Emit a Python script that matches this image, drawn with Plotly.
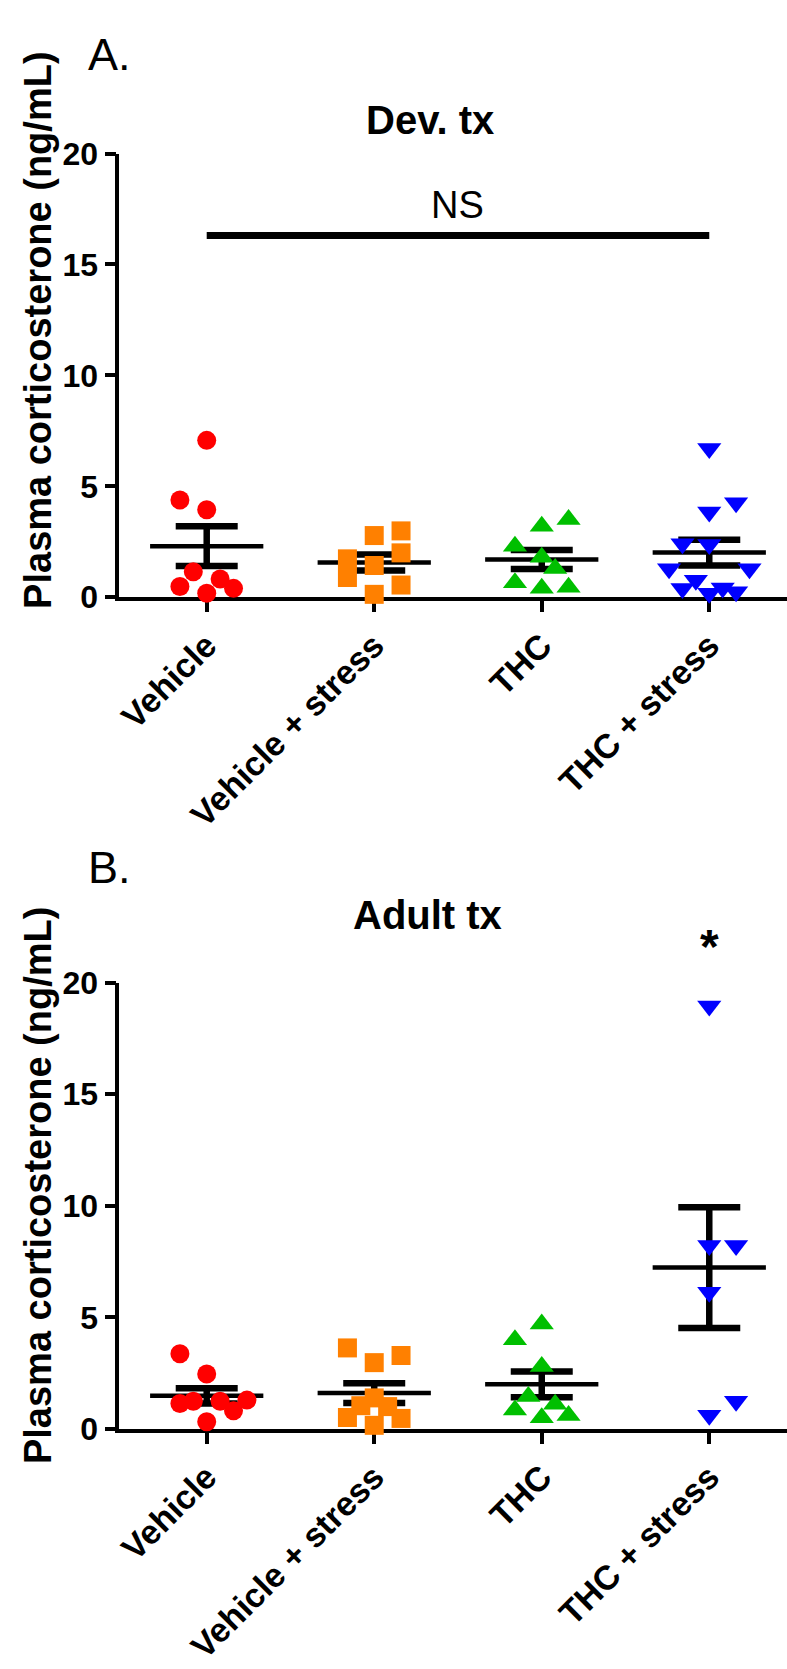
import numpy as np
import plotly.graph_objects as go

# ---------------------------------------------------------------- data
categories = ["Vehicle", "Vehicle + stress", "THC", "THC + stress"]
y_ticks = [0, 5, 10, 15, 20]

# Plasma corticosterone (ng/mL), developmental treatment
dev_vehicle = [7.07, 4.38, 3.94, 1.15, 0.48, 0.18, 0.82, 0.40]
dev_vehicle_stress = [2.78, 2.99, 2.00, 1.43, 1.73, 0.89, 0.55, 0.13]
dev_thc = [3.20, 3.50, 2.30, 1.80, 1.30, 0.65, 0.40, 0.45]
dev_thc_stress = [6.70, 3.84, 4.26, 2.41, 2.38, 1.28, 1.28, 0.76, 0.39, 0.18, 0.42, 0.25]

# Plasma corticosterone (ng/mL), adult treatment
adult_vehicle = [3.37, 2.46, 1.14, 1.24, 1.24, 0.81, 1.29, 0.32]
adult_vehicle_stress = [3.63, 3.29, 2.97, 1.39, 1.04, 1.00, 0.51, 0.47, 0.16]
adult_thc = [4.70, 4.00, 2.80, 1.45, 1.10, 0.85, 0.50, 0.60]
adult_thc_stress = [18.96, 8.22, 8.22, 6.13, 1.24, 0.61]

ns_level = 16.3        # height of the "NS" comparison bar (panel A)
star_level = 22.0      # height of the significance star (panel B)

# ---------------------------------------------------------------- layout / style
W, H = 787, 1669
FONT = "Liberation Sans, Arial, Helvetica, sans-serif"
colors = ["#ff0000", "#ff8000", "#00bf00", "#0000ff"]
symbols = ["circle", "square", "triangle-up", "triangle-down"]
marker_sizes = [19, 19, 21, 21]

# horizontal spread of the points inside each column (in steps)
SLOT = 0.08
spread_dev = [
    [0, -2, 0, -1, -2, 0, 1, 2],
    [0, 2, 2, 0, -2, -2, 2, 0],
    [0, 2, -2, 0, 1, -2, 0, 2],
    [0, 0, 2, -2, 0, -3, 3, -1, -2, 0, 1, 2],
]
spread_adult = [
    [-2, 0, -2, -1, 1, 2, 3, 0],
    [-2, 2, 0, 0, -1, 1, -2, 2, 0],
    [0, -2, 0, -1, 1, -2, 0, 2],
    [0, 0, 2, 0, 2, 0],
]

X_RANGE = [-0.522, 3.464]
Y_RANGE = [0, 20]
x_dom = [115 / W, 1.0]


def ydom(px_bottom, px_top):
    return [1 - px_bottom / H, 1 - px_top / H]


def px(x):
    return x / W


def py(y):
    return 1 - y / H


dom_a = ydom(592, 138.5)
dom_b = ydom(1442, 986)

fig = go.Figure()

panels = [
    ("x", "y", [dev_vehicle, dev_vehicle_stress, dev_thc, dev_thc_stress], spread_dev),
    ("x2", "y2", [adult_vehicle, adult_vehicle_stress, adult_thc, adult_thc_stress], spread_adult),
]

for xa, ya, groups, spread in panels:
    for i, vals in enumerate(groups):
        v = np.asarray(vals, dtype=float)
        mean = v.mean()
        sem = v.std(ddof=1) / np.sqrt(len(v))
        # SEM whiskers
        fig.add_trace(go.Scatter(
            x=[i], y=[mean], xaxis=xa, yaxis=ya, mode="markers",
            marker=dict(size=1, color="rgba(0,0,0,0)"),
            error_y=dict(type="data", array=[sem], visible=True,
                         color="black", thickness=6.5, width=31),
            showlegend=False, hoverinfo="skip", cliponaxis=False))
        # mean line
        fig.add_trace(go.Scatter(
            x=[i - 0.338, i + 0.338], y=[mean, mean], xaxis=xa, yaxis=ya,
            mode="lines", line=dict(color="black", width=4.5),
            showlegend=False, hoverinfo="skip", cliponaxis=False))
    for i, vals in enumerate(groups):
        xs = [i + SLOT * s for s in spread[i]]
        fig.add_trace(go.Scatter(
            x=xs, y=vals, xaxis=xa, yaxis=ya, mode="markers",
            marker=dict(symbol=symbols[i], size=marker_sizes[i], color=colors[i],
                        line=dict(width=0)),
            showlegend=False, cliponaxis=False))

# NS comparison bar across all four groups
fig.add_trace(go.Scatter(
    x=[0, len(categories) - 1], y=[ns_level, ns_level], xaxis="x", yaxis="y",
    mode="lines", line=dict(color="black", width=7),
    showlegend=False, hoverinfo="skip", cliponaxis=False))

axis_common = dict(
    showline=True, linecolor="black", linewidth=3.5, mirror=False,
    ticks="outside", ticklen=11, tickwidth=3.5, tickcolor="black",
    showgrid=False, zeroline=False, layer="below traces",
)

xaxis_common = dict(axis_common, range=X_RANGE, tickmode="array",
                    tickvals=list(range(len(categories))), ticktext=categories,
                    tickangle=-45, domain=x_dom,
                    tickfont=dict(family=FONT, size=34, color="black", weight="bold"))
yaxis_common = dict(axis_common, range=Y_RANGE, tickmode="array", tickvals=y_ticks,
                    tickfont=dict(family=FONT, size=32, color="black", weight="bold"))

fig.update_layout(
    width=W, height=H,
    margin=dict(l=0, r=0, t=0, b=0),
    paper_bgcolor="white", plot_bgcolor="white",
    font=dict(family=FONT, color="black"),
    xaxis=dict(xaxis_common, anchor="y"),
    yaxis=dict(yaxis_common, domain=dom_a, anchor="x"),
    xaxis2=dict(xaxis_common, anchor="y2"),
    yaxis2=dict(yaxis_common, domain=dom_b, anchor="x2"),
)

ann = []
ann.append(dict(text="A.", x=px(105), y=py(37), font=dict(size=45)))
ann.append(dict(text="B.", x=px(105), y=py(868), font=dict(size=45)))
ann.append(dict(text="Dev. tx", x=px(428), y=py(104), font=dict(size=40, weight="bold")))
ann.append(dict(text="Adult tx", x=px(425), y=py(917), font=dict(size=40, weight="bold")))
for yc in (319, 1193):
    ann.append(dict(text="Plasma corticosterone (ng/mL)", x=px(33), y=py(yc),
                    textangle=-90, font=dict(size=38, weight="bold")))
for a in ann:
    a.update(xref="paper", yref="paper", showarrow=False,
             xanchor="center", yanchor="middle")
    a["font"].update(family=FONT, color="black")
    fig.add_annotation(**a)

fig.add_annotation(text="NS", x=(len(categories) - 1) / 2, y=ns_level,
                   xref="x", yref="y", yanchor="bottom", yshift=8, showarrow=False,
                   font=dict(family=FONT, size=38, color="black"))

# significance star above THC + stress (panel B); placed on the paper because it
# sits above the top of the axis range
star_y = dom_b[0] + (star_level - Y_RANGE[0]) / (Y_RANGE[1] - Y_RANGE[0]) * (dom_b[1] - dom_b[0])
fig.add_annotation(text="*", x=len(categories) - 1, y=star_y,
                   xref="x2", yref="paper", yanchor="middle", yshift=-8, showarrow=False,
                   font=dict(family=FONT, size=48, color="black", weight="bold"))

fig.write_html("out.html")
